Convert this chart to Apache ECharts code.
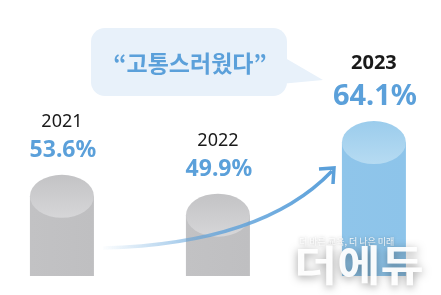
<!DOCTYPE html>
<html>
<head>
<meta charset="utf-8">
<script src="https://cdn.jsdelivr.net/npm/echarts@6.0.0/dist/echarts.min.js"></script>
<style>
	html, body { margin: 0; padding: 0; background: #fff; }
	#main { width: 441px; height: 295px; }
</style>
</head>
<body>
<div id="main"></div>
<script>
// 데이터
var years = ['2021', '2022', '2023'];
var values = [53.6, 49.9, 64.1];
var quote = '“고통스러웠다”';
var brand = '더에듀';
var slogan = '더 바른 교육, 더 나은 미래';

var BLUE = '#5ba0da';
var grayBody = '#bfbfc1';
var blueBody = '#8dc4ea';

// 원기둥 그리기
function renderCylinder(params, api) {
	var idx = api.value(0);
	var top = api.coord([idx, api.value(1)]);
	var base = api.coord([idx, 38]);
	var last = params.dataIndex === values.length - 1;
	var rx = 32, ry = 21.5;
	var body = last ? blueBody : grayBody;
	var capTop = last ? '#9bccec' : '#c3c3c5';
	var capBottom = last ? '#b6dbf2' : '#d6d6d8';

	return {
		type: 'group',
		children: [
			{
				type: 'rect',
				shape: { x: top[0] - rx, y: top[1], width: rx * 2, height: base[1] - top[1] },
				style: {
					fill: new echarts.graphic.LinearGradient(0, 0, 1, 0, [
						{ offset: 0, color: last ? '#8fc5ea' : '#c2c2c4' },
						{ offset: 1, color: body }
					])
				}
			},
			{
				type: 'circle',
				x: top[0], y: top[1],
				scaleY: ry / rx,
				shape: { cx: 0, cy: 0, r: rx },
				style: {
					fill: new echarts.graphic.LinearGradient(0, 0, 0, 1, [
						{ offset: 0, color: capTop },
						{ offset: 1, color: capBottom }
					])
				}
			},
			{
				type: 'text',
				style: {
					x: top[0], y: top[1] - (last ? 79 : 74),
					text: years[params.dataIndex],
					fill: '#1a1a1a',
					font: (last ? 'bold 20px' : '18px') + ' "Noto Sans", sans-serif',
					align: 'center', verticalAlign: 'middle'
				}
			},
			{
				type: 'text',
				style: {
					x: top[0] + 1, y: top[1] - 46,
					text: values[params.dataIndex].toFixed(1) + '%',
					fill: BLUE,
					font: 'bold ' + (last ? 29 : 23) + 'px "Noto Sans", sans-serif',
					align: 'center', verticalAlign: 'middle'
				}
			}
		]
	};
}

var chart = echarts.init(document.getElementById('main'));

chart.setOption({
	animation: false,
	grid: { left: 0, right: 0, top: 0, bottom: 19 },
	xAxis: { type: 'value', min: -0.397, max: 2.43, show: false },
	yAxis: { type: 'value', min: 38, max: 92, show: false },
	series: [
		{
			type: 'custom',
			renderItem: renderCylinder,
			data: values.map(function (v, i) { return [i, v]; }),
			z: 2
		}
	],
	graphic: [
		// 말풍선
		{
			type: 'group',
			z: 5,
			children: [
				{
					type: 'polygon',
					shape: { points: [[280, 55], [323, 80], [280, 84]] },
					style: { fill: '#e8f1fa' }
				},
				{
					type: 'rect',
					shape: { x: 91, y: 28, width: 196, height: 68, r: 14 },
					style: { fill: '#e8f1fa' }
				},
				{
					type: 'text',
					style: {
						x: 190, y: 63, text: quote, fill: BLUE,
						font: 'bold 23px "Noto Sans CJK KR", sans-serif',
						align: 'center', verticalAlign: 'middle'
					}
				}
			]
		},
		// 상승 화살표
		{
			type: 'bezierCurve',
			z: 10,
			shape: { x1: 103, y1: 248, cpx1: 220, cpy1: 245, cpx2: 290, cpy2: 215, x2: 332, y2: 171 },
			style: {
				fill: null,
				lineWidth: 3.5,
				stroke: new echarts.graphic.LinearGradient(0, 0, 1, 0, [
					{ offset: 0, color: 'rgba(91,160,218,0)' },
					{ offset: 0.5, color: 'rgba(91,160,218,0.75)' },
					{ offset: 1, color: BLUE }
				], false)
			}
		},
		{
			type: 'polyline',
			z: 10,
			shape: { points: [[319, 169], [334, 168], [333, 184]] },
			style: { stroke: BLUE, lineWidth: 3.5, lineJoin: 'miter', fill: null }
		},
		// 워터마크
		{
			type: 'text',
			z: 20,
			style: {
				x: 299, y: 242, text: slogan, fill: 'rgba(255,255,255,0.9)',
				font: '9px "Noto Sans CJK KR", sans-serif',
				align: 'left', verticalAlign: 'middle',
				textShadowBlur: 3, textShadowColor: 'rgba(0,0,0,0.3)'
			}
		},
		{
			type: 'text',
			z: 20,
			x: 294, y: 265,
			scaleX: 1.12,
			style: {
				x: 0, y: 0, text: brand, fill: 'rgba(255,255,255,0.95)',
				font: 'bold 42px "Noto Sans CJK KR", sans-serif',
				align: 'left', verticalAlign: 'middle',
				textShadowBlur: 8, textShadowOffsetY: 2, textShadowColor: 'rgba(0,0,0,0.4)'
			}
		}
	]
});
</script>
</body>
</html>
